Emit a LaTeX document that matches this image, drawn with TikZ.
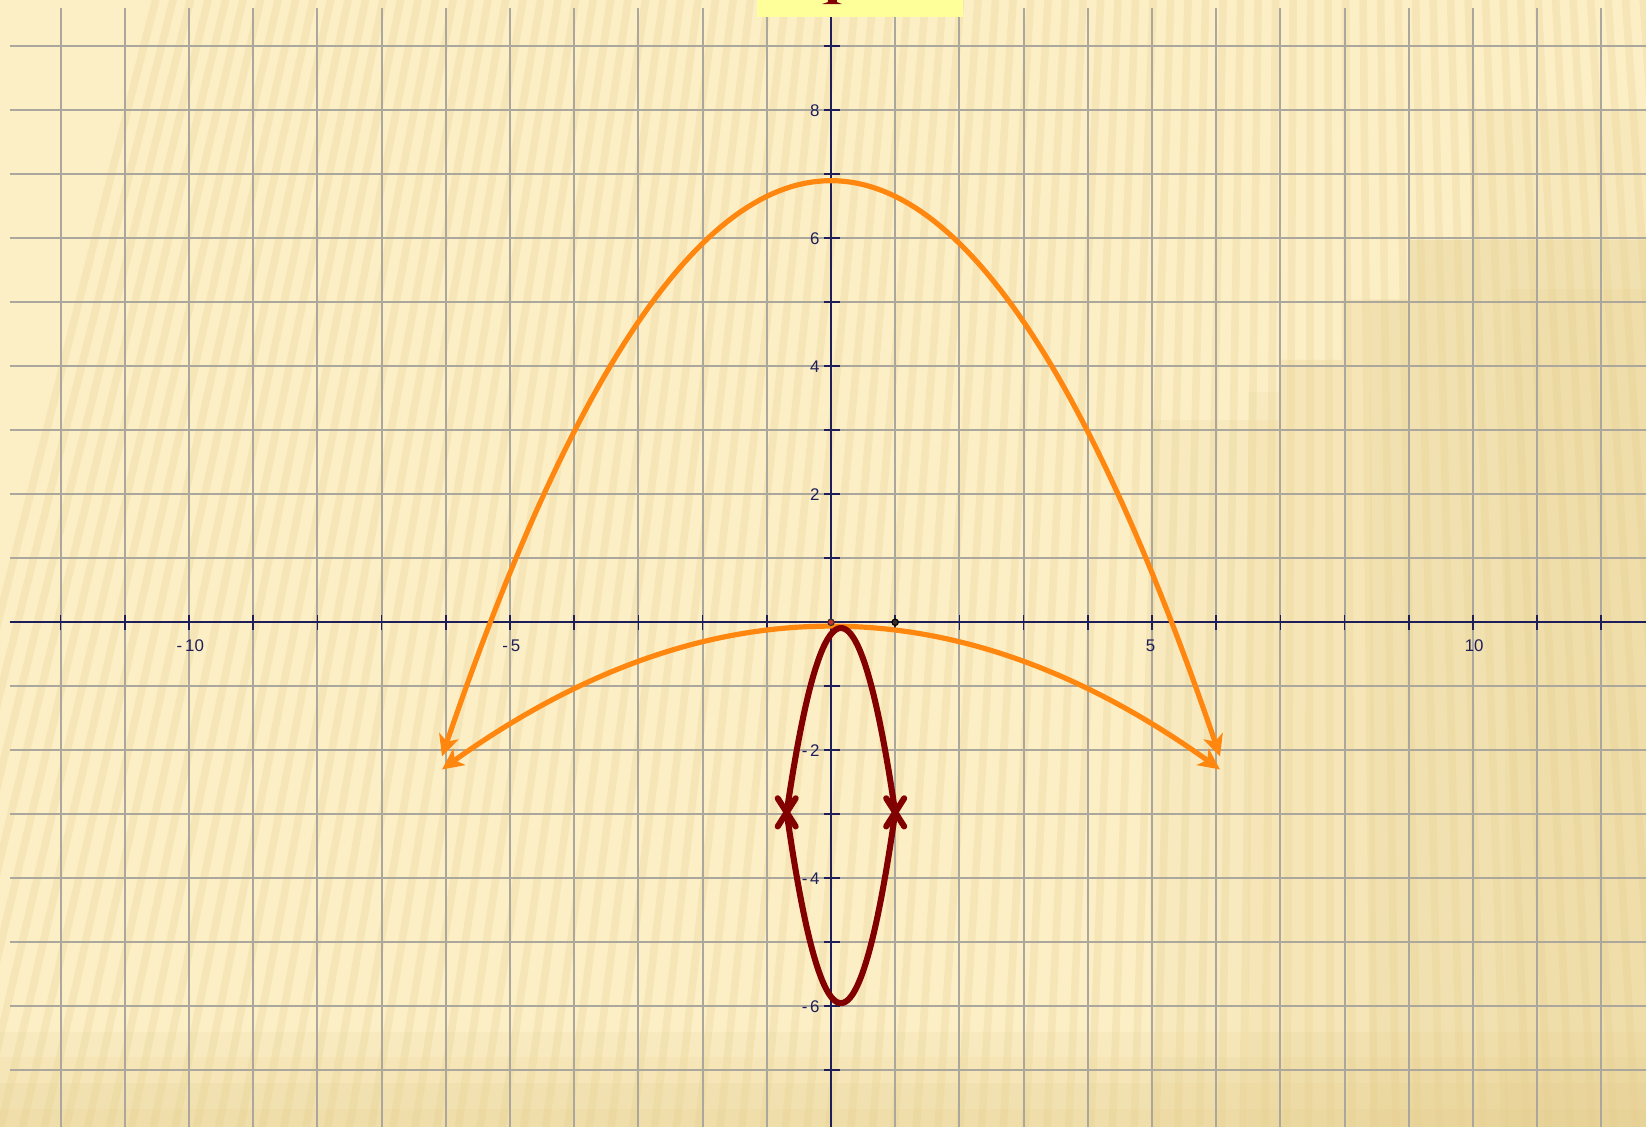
\documentclass[tikz,border=0pt]{standalone}
\usepackage{fontspec}
\setmainfont{Liberation Sans}
\usetikzlibrary{arrows.meta}
\definecolor{bgc}{HTML}{FCEFC6}
\definecolor{stripec}{HTML}{E6CE8C}
\definecolor{darkc}{HTML}{DDC27A}
\definecolor{gridc}{HTML}{ABA79C}
\definecolor{axisc}{HTML}{1E1E5A}
\definecolor{orangec}{HTML}{FF870F}
\definecolor{redc}{HTML}{820000}
\definecolor{boxc}{HTML}{FFFF99}
\definecolor{dotred}{HTML}{C83030}
\definecolor{dotdark}{HTML}{3A2A2A}
\tikzset{
  stripe/.style={stripec, line width=0.12cm, opacity=0.25},
  shadepatch/.style={fill=darkc, opacity=0.1},
  gridline/.style={gridc, line width=0.85pt},
  axisline/.style={axisc, line width=0.75pt},
  lab/.style={text=axisc, font=\fontsize{7.5}{8}\selectfont, inner sep=0pt},
  xlab/.style={lab, anchor=center},
  ylab/.style={lab, anchor=east},
  orangeline/.style={orangec, line width=2.3pt, line join=round,
     {Stealth[length=9.5pt,width=9pt,inset=2.5pt]}-{Stealth[length=9.5pt,width=9pt,inset=2.5pt]}},
  redline/.style={redc, line width=2.7pt, line join=round, line cap=round},
}
\begin{document}
\begin{tikzpicture}[x=1.003cm,y=1cm]
\useasboundingbox (-12.945,-7.886) rectangle (12.696,9.723);
\begin{scope}
\clip (-12.945,-7.886) rectangle (12.696,9.723);
% background
\fill[bgc] (-12.945,-7.886) rectangle (12.696,9.723);
% darker patch, right side, stepped edge
\fill[shadepatch] (4.97,3.16) -- (6.99,3.16) -- (6.99,4.10) -- (7.96,4.10) -- (7.96,5.04)
   -- (9.02,5.04) -- (9.02,5.97) -- (12.8,5.97) -- (12.8,-8) -- (4.97,-8) -- cycle;
\fill[shadepatch] (6.99,4.10) -- (7.96,4.10) -- (7.96,5.04) -- (9.02,5.04) -- (9.02,5.97)
   -- (12.8,5.97) -- (12.8,-8) -- (6.5,-8) -- (6.5,3.6) -- (6.99,3.6) -- cycle;
\fill[shadepatch] (8.4,5.04) -- (9.02,5.04) -- (9.02,5.97) -- (12.8,5.97) -- (12.8,-8) -- (8.4,-8) -- cycle;
\fill[shadepatch] (10.5,5.2) rectangle (12.8,-8);
\fill[darkc, opacity=0.12] (9.95,8.0) rectangle (12.8,5.97);
% darker band along the bottom
\foreach \k in {0,...,3}{
  \fill[shadepatch] ({-12.95},{-6.4-0.4*\k}) rectangle (12.8,-8);
}
% light stripes converging upward
\foreach \i in {0,...,90}{
  \pgfmathsetmacro\xb{-15+0.34*\i}
  \pgfmathsetmacro\xt{\xb+0.199*(7.6-\xb)}
  \draw[stripe] (\xb,-8) -- (\xt,9.8);
}
% grid
\foreach \x in {-12,...,12} \draw[gridline] (\x,-8) -- (\x,9.60);
\foreach \y in {-7,...,9} \draw[gridline] (-12.79,\y) -- (12.8,\y);
% axes
\draw[axisline] (-12.79,0) -- (12.8,0);
\draw[axisline] (0,-8) -- (0,9.8);
\foreach \x in {-12,...,12} \draw[axisline] (\x,-0.12) -- (\x,0.12);
\foreach \y in {-7,...,9} \draw[axisline] (-0.11,\y) -- (0.14,\y);
% labels
\node[xlab] (xm10) at (-9.98,-0.36) {-\,10};
\node[xlab] (xm5) at (-4.98,-0.36) {-\,5};
\node[xlab] (xp5) at (4.98,-0.36) {5};
\node[xlab] (xp10) at (10.02,-0.36) {10};
\node[ylab] (y8) at (-0.17,8) {8};
\node[ylab] (y6) at (-0.17,6) {6};
\node[ylab] (y4) at (-0.17,4) {4};
\node[ylab] (y2) at (-0.17,2) {2};
\node[ylab] (ym2) at (-0.17,-2) {-\,2};
\node[ylab] (ym4) at (-0.17,-4) {-\,4};
\node[ylab] (ym6) at (-0.17,-6) {-\,6};
% orange curves
\draw[orangeline] plot[domain=-6.06:6.06,samples=121] (\x,{6.9-0.245*\x*\x});
\draw[orangeline] plot[domain=-6.06:6.06,samples=121] (\x,{-0.06-0.061*\x*\x});
% dark red curves: two parabolas meeting at the X marks
\draw[redline] plot[domain=-0.69:1.0,samples=81] (\x,{-0.09-4.03*(\x-0.155)*(\x-0.155)});
\draw[redline] plot[domain=-0.69:1.0,samples=81] (\x,{-5.95+4.17*(\x-0.155)*(\x-0.155)});
% X marks (overlapping arrow heads)
\coordinate (xmL) at (-0.69,-2.97);
\coordinate (xmR) at (1.0,-2.97);
\draw[redline] (xmL) ++(-0.14,0.22) -- ++(0.28,-0.44);
\draw[redline] (xmL) ++(-0.14,-0.22) -- ++(0.28,0.44);
\draw[redline] (xmR) ++(-0.14,0.22) -- ++(0.28,-0.44);
\draw[redline] (xmR) ++(-0.14,-0.22) -- ++(0.28,0.44);
% points
\coordinate (O) at (0,0);
\coordinate (P1) at (1,0);
\filldraw[fill=dotred, draw=dotdark, line width=0.5pt] (O) circle (0.05);
\filldraw[fill=dotdark, draw=black, line width=0.5pt] (P1) circle (0.05);
% top yellow box with clipped glyph
\fill[boxc] (-1.153,9.457) rectangle (2.056,9.8);
\fill[redc] (-0.047,9.8) -- (0.093,9.8) -- (0.093,9.69) -- (0.171,9.66) -- (-0.14,9.66) -- (-0.047,9.69) -- cycle;
\end{scope}
\end{tikzpicture}
\end{document}
